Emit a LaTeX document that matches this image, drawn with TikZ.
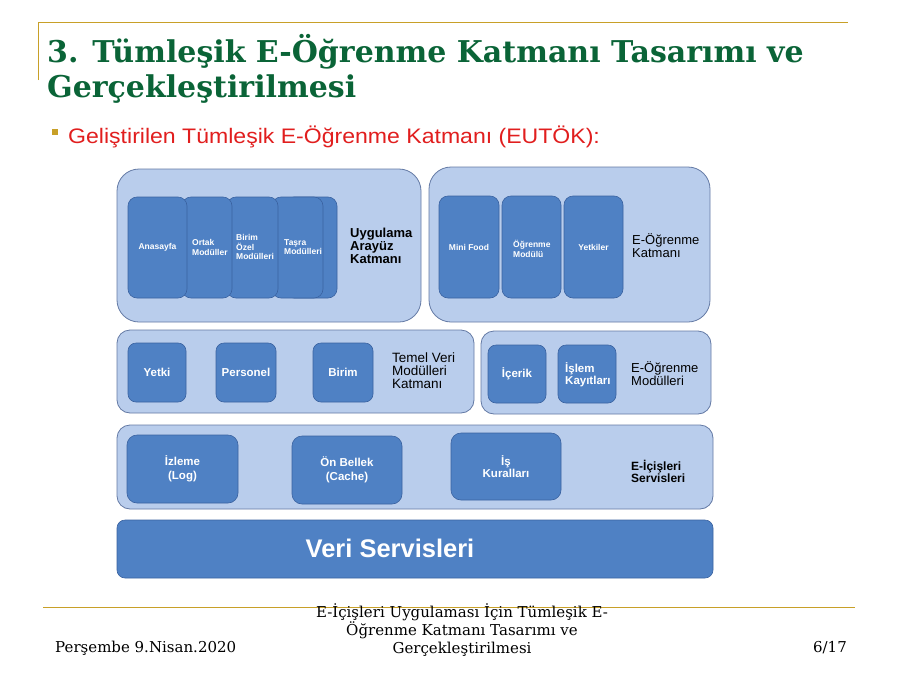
\documentclass[tikz,border=0pt]{standalone}
\usepackage{fontspec}
\setmainfont{DejaVu Serif}
\newfontfamily\sansf{Liberation Sans}
\definecolor{outerfill}{RGB}{185,205,236}
\definecolor{outerdraw}{RGB}{100,122,165}
\definecolor{innerfill}{RGB}{79,129,196}
\definecolor{innerdraw}{RGB}{58,98,160}
\definecolor{titlegreen}{RGB}{10,100,55}
\definecolor{gold}{RGB}{200,160,40}
\definecolor{redtext}{RGB}{225,30,30}
\begin{document}
\begin{tikzpicture}[x=1pt,y=-1pt,
  outer/.style={draw=outerdraw, fill=outerfill, line width=0.8pt, inner sep=0pt},
  inner/.style={draw=innerdraw, fill=innerfill, line width=0.6pt, inner sep=0pt, text=white, align=center},
  small/.style={font=\sansf\bfseries\fontsize{8.5}{9.2}\selectfont},
  mid/.style={font=\sansf\bfseries\fontsize{11.5}{14}\selectfont},
  lab/.style={font=\sansf\fontsize{13}{13}\selectfont, align=left, anchor=west, inner sep=0pt},
  wlab/.style={text=white, align=left, anchor=west, inner sep=0pt},
  goldline/.style={draw=gold, line width=0.9pt},
  foot/.style={font=\fontsize{15}{18}\selectfont, inner sep=0pt},
]
\path[use as bounding box, fill=white] (0,0) rectangle (900,675);

% frame lines
\coordinate (tl) at (38,22);
\coordinate (tr) at (848,22);
\coordinate (tv) at (38,80);
\draw[goldline] (tv) -- (tl) -- (tr);
\coordinate (fl) at (43,607);
\coordinate (fr) at (855,607);
\draw[goldline] (fl) -- (fr);

% title
\node[anchor=base west, inner sep=0pt, text=titlegreen, font=\bfseries\fontsize{30}{34}\selectfont] (title1) at (47,62) {3. Tümleşik E-Öğrenme Katmanı Tasarımı ve};
\node[anchor=base west, inner sep=0pt, text=titlegreen, font=\bfseries\fontsize{30}{34}\selectfont] (title2) at (47,97) {Gerçekleştirilmesi};

% bullet
\node[fill=gold, minimum size=6.5pt, inner sep=0pt] (bul) at (55,132) {};
\node[anchor=base west, inner sep=0pt, text=redtext, font=\sansf\fontsize{21}{24}\selectfont] (sub) at (68,143) {\scalebox{1.098}[1]{Geliştirilen Tümleşik E-Öğrenme Katmanı (EUTÖK):}};

% row 1 groups
\node[outer, rounded corners=22pt, minimum width=304pt, minimum height=153pt] (g1) at (269,245.5) {};
\node[outer, rounded corners=22pt, minimum width=281pt, minimum height=155pt] (g2) at (569.5,244.5) {};

% stacked cards (back to front)
\node[inner, rounded corners=9pt, minimum width=52pt, minimum height=101pt] (c5) at (311,247.5) {};
\node[inner, rounded corners=9pt, minimum width=51pt, minimum height=101pt] (c4) at (297.5,247.5) {};
\node[inner, rounded corners=9pt, minimum width=51pt, minimum height=101pt] (c3) at (252.5,247.5) {};
\node[inner, rounded corners=9pt, minimum width=50pt, minimum height=101pt] (c2) at (207,247.5) {};
\node[inner, rounded corners=9pt, minimum width=59pt, minimum height=101pt, small] (c1) at (157.5,247.5) {Anasayfa};
\node[wlab, small] (c2t) at (192,247.5) {Ortak\\Modüller};
\node[wlab, small] (c3t) at (236,247) {Birim\\Özel\\Modülleri};
\node[wlab, small] (c4t) at (284,247.5) {Taşra\\Modülleri};
\node[lab, font=\sansf\bfseries\fontsize{13}{13}\selectfont] (g1t) at (350,246) {Uygulama\\Arayüz\\Katmanı};

\node[inner, rounded corners=9pt, minimum width=60pt, minimum height=102pt, small] (e1) at (469,247) {Mini Food};
\node[inner, rounded corners=9pt, minimum width=59pt, minimum height=102pt] (e2) at (531.5,247) {};
\node[wlab, small] (e2t) at (513,249) {Öğrenme\\Modülü};
\node[inner, rounded corners=9pt, minimum width=59pt, minimum height=102pt, small] (e3) at (593.5,247) {Yetkiler};
\node[lab] (g2t) at (632,246) {E-Öğrenme\\Katmanı};

% row 2
\node[outer, rounded corners=13pt, minimum width=357pt, minimum height=83pt] (g3) at (295.5,371.5) {};
\node[outer, rounded corners=13pt, minimum width=230pt, minimum height=83pt] (g4) at (596,372.5) {};
\node[inner, rounded corners=8pt, minimum width=58pt, minimum height=59pt, mid] (t1) at (157,372.5) {Yetki};
\node[inner, rounded corners=8pt, minimum width=60pt, minimum height=59pt, mid] (t2) at (246,372.5) {Personel};
\node[inner, rounded corners=8pt, minimum width=60pt, minimum height=59pt, mid] (t3) at (343,372.5) {Birim};
\node[lab, font=\sansf\fontsize{13.5}{13}\selectfont] (g3t) at (392,371) {Temel Veri\\Modülleri\\Katmanı};
\node[inner, rounded corners=8pt, minimum width=58pt, minimum height=58pt, mid] (m1) at (517,374) {İçerik};
\node[inner, rounded corners=8pt, minimum width=58pt, minimum height=58pt] (m2) at (587,374) {};
\node[wlab, font=\sansf\bfseries\fontsize{11.5}{12}\selectfont] (m2t) at (565,375) {İşlem\\Kayıtları};
\node[lab] (g4t) at (631,374) {E-Öğrenme\\Modülleri};

% row 3
\node[outer, rounded corners=13pt, minimum width=596pt, minimum height=84pt] (g5) at (415,467) {};
\node[inner, rounded corners=10pt, minimum width=111pt, minimum height=68pt, mid] (s1) at (182.5,469) {İzleme\\(Log)};
\node[inner, rounded corners=10pt, minimum width=110pt, minimum height=68pt, mid] (s2) at (347,470) {Ön Bellek\\(Cache)};
\node[inner, rounded corners=10pt, minimum width=110pt, minimum height=67pt, font=\sansf\bfseries\fontsize{11.5}{12}\selectfont] (s3) at (506,466.5) {İş\\Kuralları};
\node[lab, font=\sansf\bfseries\fontsize{12}{12}\selectfont] (g5t) at (631,471) {E-İçişleri\\Servisleri};

% row 4
\node[inner, rounded corners=8pt, minimum width=596pt, minimum height=58pt] (veri) at (415,549) {};
\node[text=white, font=\sansf\bfseries\fontsize{25.5}{26}\selectfont, inner sep=0pt] (verit) at (390,548) {Veri Servisleri};

% footer
\node[foot, anchor=base west] (date) at (55,652) {Perşembe 9.Nisan.2020};
\node[foot, align=center, anchor=north] (ftitle) at (462,603) {E-İçişleri Uygulaması İçin Tümleşik E-\\Öğrenme Katmanı Tasarımı ve\\Gerçekleştirilmesi};
\node[foot, anchor=base east] (page) at (847,652) {6/17};
\end{tikzpicture}
\end{document}
